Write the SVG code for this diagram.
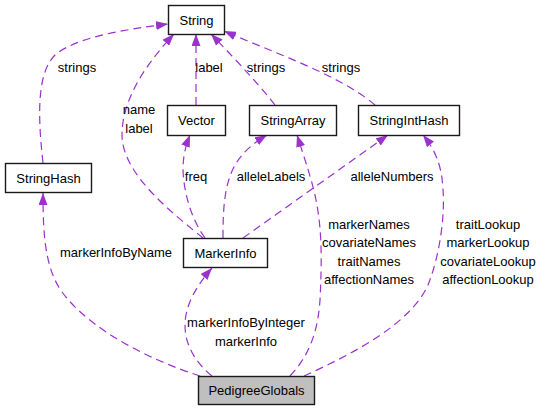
<svg xmlns="http://www.w3.org/2000/svg" width="540" height="411" viewBox="0 0 540 411">
<style>
.node rect{fill:#fff;stroke:#1a1a1a;stroke-width:1.4}
.node.main rect{fill:#bfbfbf}
text{font-family:"Liberation Sans",Arial,Helvetica,sans-serif;font-size:13px;fill:#000;text-anchor:middle}
.edge{fill:none;stroke:#9a32cd;stroke-width:1.2;stroke-dasharray:8,5;marker-end:url(#arr)}
</style>
<defs>
<marker id="arr" viewBox="0 0 12 9" refX="12" refY="4.5" markerWidth="12" markerHeight="9" markerUnits="userSpaceOnUse" orient="auto">
<path d="M0,0 L12,4.5 L0,9 Z" fill="#9a32cd" stroke="none"/>
</marker>
</defs>
<rect width="540" height="411" fill="#fff"/>
<g id="connectors">
<path class="edge" d="M43,163 C37,110 38,72 55,55 C75,38 120,30 168,24"/>
<path class="edge" d="M203,238 C175,215 122,175 122,135 C122,100 145,65 174,34"/>
<path class="edge" d="M196,105 L196,34"/>
<path class="edge" d="M275,105 C262,88 238,62 211,34"/>
<path class="edge" d="M375,105 C340,75 272,52 224,31"/>
<path class="edge" d="M205,238 C192,220 184,195 183,170 C183,155 186,145 190,135"/>
<path class="edge" d="M223,238 C223,210 224,185 235,165 C242,153 252,144 267,135"/>
<path class="edge" d="M243,238 L388,135"/>
<path class="edge" d="M290,376 C310,355 318,330 320,300 C322,260 322,230 316,200 C312,180 305,160 297,135"/>
<path class="edge" d="M304,376 C350,355 410,325 428,285 C440,255 445,215 443,190 C442,165 435,150 423,135"/>
<path class="edge" d="M212,376 C195,362 185,345 185,325 C185,305 197,285 212,268"/>
<path class="edge" d="M200,376 C150,360 90,330 62,292 C45,268 43,235 43,193"/>
<g id="edge-labels">
<text x="77" y="71.5">strings</text>
<text x="209" y="71.5">label</text>
<text x="266" y="71.5">strings</text>
<text x="341" y="71.5">strings</text>
<text x="139" y="113.5">name</text>
<text x="139" y="132.5">label</text>
<text x="196" y="180.5">freq</text>
<text x="271" y="180.5">alleleLabels</text>
<text x="392" y="180.5">alleleNumbers</text>
<text x="116" y="256.5">markerInfoByName</text>
<text x="369" y="228.5">markerNames</text>
<text x="369" y="247">covariateNames</text>
<text x="369" y="265.5">traitNames</text>
<text x="369" y="284">affectionNames</text>
<text x="488" y="228.5">traitLookup</text>
<text x="488" y="247">markerLookup</text>
<text x="488" y="265.5">covariateLookup</text>
<text x="488" y="284">affectionLookup</text>
<text x="246" y="326.5">markerInfoByInteger</text>
<text x="246" y="345.5">markerInfo</text>
</g>
</g>
<g id="String" class="node"><rect x="168.5" y="5.5" width="56" height="29"/><text x="196.5" y="24.5">String</text></g>
<g id="Vector" class="node"><rect x="167.5" y="105.5" width="58" height="30"/><text x="196.5" y="125">Vector</text></g>
<g id="StringArray" class="node"><rect x="249.5" y="105.5" width="87" height="30"/><text x="293" y="125">StringArray</text></g>
<g id="StringIntHash" class="node"><rect x="358.5" y="105.5" width="101" height="30"/><text x="409" y="125">StringIntHash</text></g>
<g id="StringHash" class="node"><rect x="5.5" y="163.5" width="86" height="29"/><text x="48.5" y="182.5">StringHash</text></g>
<g id="MarkerInfo" class="node"><rect x="183.5" y="238.5" width="84" height="29"/><text x="225.5" y="257.5">MarkerInfo</text></g>
<g id="PedigreeGlobals" class="node main"><rect x="198.5" y="376.5" width="116" height="28"/><text x="256.5" y="395">PedigreeGlobals</text></g>
</svg>
